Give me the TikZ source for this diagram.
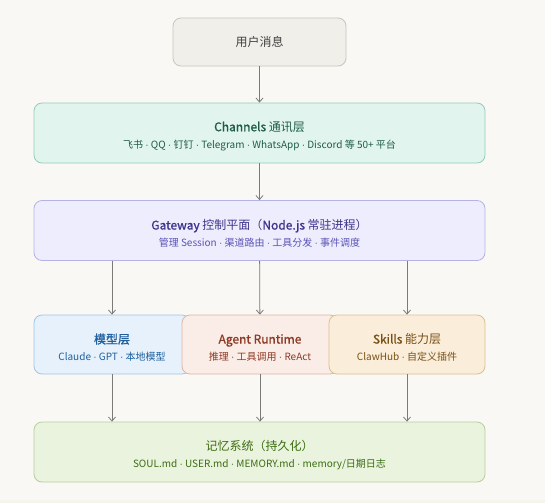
\documentclass[tikz,border=0pt]{standalone}
\usepackage{fontspec}
\setmainfont{Noto Sans CJK SC}
\newfontfamily\titlefont{Noto Sans CJK SC}[FakeBold=1.2]
\newfontfamily\dotfont{Liberation Sans}
\usepackage{xcolor}
\usetikzlibrary{arrows.meta}

\definecolor{bgpaper}{HTML}{F9F8F4}
\definecolor{bgstrip}{HTML}{F4F5EC}
\definecolor{userfill}{HTML}{F1EFEA}
\definecolor{userline}{HTML}{C8C5BD}
\definecolor{chanfill}{HTML}{E1F5EE}
\definecolor{chanline}{HTML}{93CDB8}
\definecolor{chantext}{HTML}{1F5C48}
\definecolor{gatefill}{HTML}{EEEDFE}
\definecolor{gateline}{HTML}{B5B3E6}
\definecolor{gatetext}{HTML}{3C3489}
\definecolor{gatesub}{HTML}{5B53B5}
\definecolor{modelfill}{HTML}{E6F1FB}
\definecolor{modelline}{HTML}{A0C6E8}
\definecolor{modeltext}{HTML}{1F5F9E}
\definecolor{agentfill}{HTML}{FAECE7}
\definecolor{agentline}{HTML}{DFB6A6}
\definecolor{agenttext}{HTML}{8E3B25}
\definecolor{skillfill}{HTML}{FAEEDA}
\definecolor{skillline}{HTML}{DCC08E}
\definecolor{skilltext}{HTML}{7A4F14}
\definecolor{memfill}{HTML}{EAF3DE}
\definecolor{memline}{HTML}{B6CF9A}
\definecolor{memtext}{HTML}{3B6D11}
\definecolor{flowline}{HTML}{7A7A78}

\newcommand{\boxtitle}[1]{{\fontsize{12}{14}\selectfont #1}}
\newcommand{\boxsub}[1]{{\fontsize{10}{12}\selectfont #1}}
\newcommand{\sep}{ {\dotfont ·} }

\begin{document}
\begin{tikzpicture}[x=1pt, y=-1pt,
  layer/.style={draw, line width=0.8pt, rounded corners=8pt, align=center, inner sep=0pt},
  wide/.style={layer, minimum width=451pt, minimum height=60pt, text height=33pt},
  part/.style={layer, minimum width=156pt, minimum height=59pt, text height=33pt},
  flow/.style={draw=flowline, line width=0.8pt, -{Straight Barb[length=4pt, width=7pt]}}]
\fill[bgpaper] (0, 0) rectangle (545, 503);
\fill[bgstrip] (0, 500) rectangle (545, 503);
\useasboundingbox (0, 0) rectangle (545, 503);
\node[layer, fill=userfill, draw=userline, text=black!75, minimum width=173pt, minimum height=48pt] (user) at (259.5, 42) {\boxtitle{用户消息}};
\node[wide, fill=chanfill, draw=chanline, text=chantext] (channels) at (259.5, 133)
  {\boxtitle{{\titlefont Channels} 通讯层}\\[5pt]\boxsub{飞书\sep QQ\sep 钉钉\sep Telegram\sep WhatsApp\sep Discord 等 50+ 平台}};
\node[wide, fill=gatefill, draw=gateline, text=gatetext] (gateway) at (259.5, 230.5)
  {\boxtitle{{\titlefont Gateway} 控制平面（{\titlefont Node.js} 常驻进程）}\\[5pt]\textcolor{gatesub}{\boxsub{管理 Session\sep 渠道路由\sep 工具分发\sep 事件调度}}};
\node[part, fill=modelfill, draw=modelline, text=modeltext] (model) at (112, 344.5)
  {\boxtitle{\titlefont 模型层}\\[5pt]\boxsub{Claude\sep GPT\sep 本地模型}};
\node[part, fill=agentfill, draw=agentline, text=agenttext] (agent) at (260, 344.5)
  {\boxtitle{\titlefont Agent Runtime}\\[5pt]\boxsub{推理\sep 工具调用\sep ReAct}};
\node[part, fill=skillfill, draw=skillline, text=skilltext] (skills) at (407, 344.5)
  {\boxtitle{{\titlefont Skills} 能力层}\\[5pt]\boxsub{ClawHub\sep 自定义插件}};
\node[wide, fill=memfill, draw=memline, text=memtext] (memory) at (259.5, 452)
  {\boxtitle{记忆系统（持久化）}\\[5pt]\boxsub{SOUL.md\sep USER.md\sep MEMORY.md\sep memory/日期日志}};
\draw[flow] (user) -- (channels);
\draw[flow] (channels) -- (gateway);
\draw[flow] (gateway.south -| model) -- (model);
\draw[flow] (gateway) -- (agent);
\draw[flow] (gateway.south -| skills) -- (skills);
\draw[flow] (model) -- (model |- memory.north);
\draw[flow] (agent) -- (agent |- memory.north);
\draw[flow] (skills) -- (skills |- memory.north);
\end{tikzpicture}
\end{document}
